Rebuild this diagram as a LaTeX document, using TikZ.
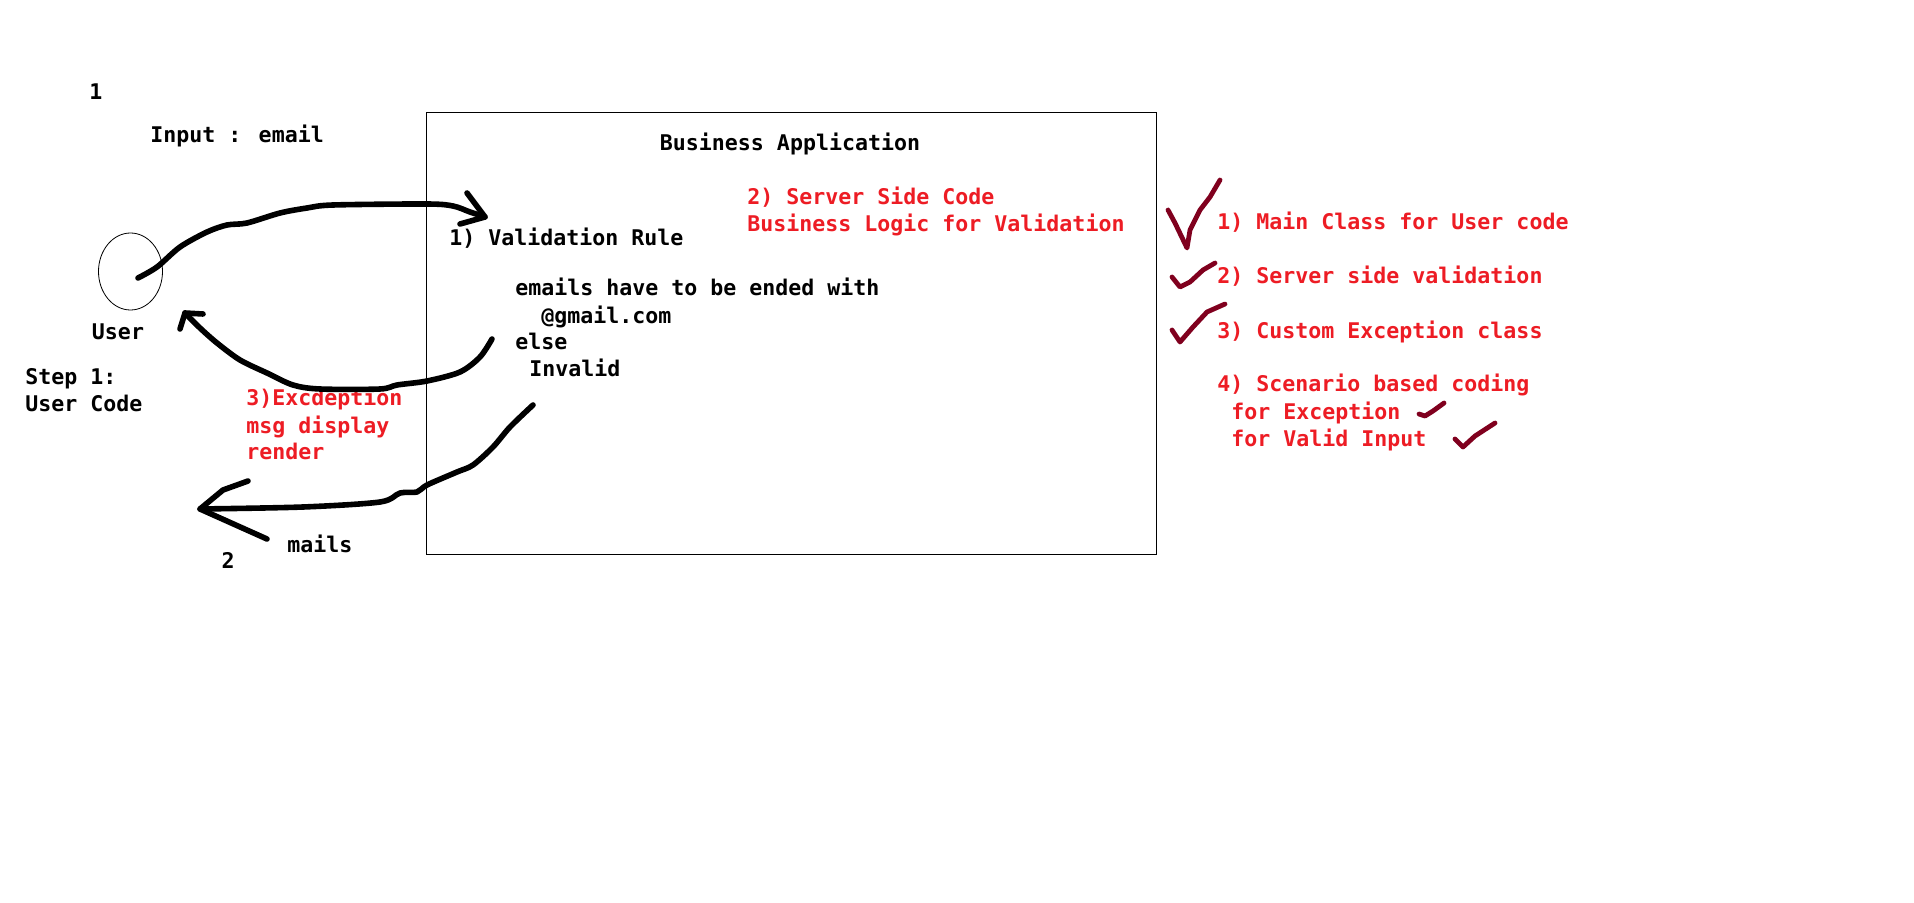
\documentclass[tikz,border=0pt]{standalone}
\usepackage{fontspec}
\setmainfont{DejaVu Sans Mono}
\usepackage{xcolor}
\usepackage{tikz}
\usetikzlibrary{shapes.geometric}
\definecolor{penred}{RGB}{237,28,36}
\definecolor{tickred}{RGB}{128,0,30}

\begin{document}
\begin{tikzpicture}[x=0.5pt,y=-0.5pt,
  txt/.style={inner sep=0pt,anchor=base west,font=\fontsize{10.8}{13.5}\selectfont\bfseries},
  redtxt/.style={txt,text=penred},
  pen/.style={line width=2.8pt,line cap=round,line join=round},
  tick/.style={line width=2.4pt,line cap=round,line join=round,tickred}]
\useasboundingbox (0,0) rectangle (1914,903);
% pixel coordinates, y going down
\node[draw,ellipse,line width=0.4pt,minimum width=32pt,minimum height=38.5pt,inner sep=0pt] (user) at (130.5,271.5) {};
\node[txt,anchor=base] (one) at (96,100) {1};
\node[txt] (input) at (150,143) {Input : email};
\node[txt,anchor=base] (userlbl) at (118,340) {User};
\node[txt] (stepa) at (25,384) {Step 1:};
\node[txt] (stepb) at (25,411) {User Code};
\node[draw,line width=0.5pt,anchor=north west,minimum width=365pt,minimum height=221pt,inner sep=0pt] (app) at (426,112) {};
\node[txt,anchor=base] (apptitle) at (790,151) {Business Application};
\node[redtxt] (servera) at (747,205) {2) Server Side Code};
\node[redtxt] (serverb) at (747,232) {Business Logic for Validation};
\node[txt] (rule) at (449,246) {1) Validation Rule};
\node[txt] (rulea) at (515,296) {emails have to be ended with};
\node[txt] (ruleb) at (541,323) {@gmail.com};
\node[txt] (rulec) at (515,350) {else};
\node[txt] (ruled) at (529,376) {Invalid};
\node[redtxt] (exca) at (246,405) {3)Excdeption};
\node[redtxt] (excb) at (246,433) {msg display};
\node[redtxt] (excc) at (246,459) {render};
\node[txt] (mails) at (287,552) {mails};
\node[txt,anchor=base] (two) at (228,568) {2};
\node[redtxt] (todoa) at (1217,230) {1) Main Class for User code};
\node[redtxt] (todob) at (1217,284) {2) Server side validation};
\node[redtxt] (todoc) at (1217,338) {3) Custom Exception class};
\node[redtxt] (todod) at (1217,391) {4) Scenario based coding};
\node[redtxt] (todoe) at (1231,419) {for Exception};
\node[redtxt] (todof) at (1231,446) {for Valid Input};
% hand drawn arrows
\coordinate (uout) at (138,278);
\coordinate (intip) at (485,217);
\coordinate (excout) at (492,339);
\coordinate (exctip) at (185,313);
\coordinate (mailout) at (533,405);
\coordinate (mailtip) at (200,509);
\draw[pen] plot[smooth,tension=0.5] coordinates {(uout) (157,267) (180,247) (207,232) (227,225) (247,223) (280,213) (307,208) (333,205) (427,204) (453,206) (470,212) (intip)};
\draw[pen] (467,193) -- (intip) -- (460,224);
\draw[pen] plot[smooth,tension=0.5] coordinates {(excout) (480,357) (460,372) (427,381) (397,385) (380,389) (320,389) (293,385) (267,373) (240,360) (217,343) (200,328) (exctip)};
\draw[pen] (180,329) -- (exctip) -- (203,314);
\draw[pen] plot[smooth,tension=0.5] coordinates {(mailout) (510,427) (493,447) (473,465) (457,472) (427,485) (417,492) (400,493) (380,502) (303,507) (mailtip)};
\draw[pen] (248,481) -- (223,490) -- (mailtip) -- (267,539);
% ticks
\draw[tick] (1168,210) -- (1175,223) -- (1187,248) -- (1190,230) -- (1200,210) -- (1210,197) -- (1220,180);
\draw[tick] (1172,277) -- (1180,287) -- (1190,282) -- (1203,270) -- (1215,263);
\draw[tick] (1172,330) -- (1180,342) -- (1193,327) -- (1207,312) -- (1225,304);
\draw[tick] (1419,414) -- (1425,416) -- (1433,411) -- (1444,403);
\draw[tick] (1455,439) -- (1463,447) -- (1475,436) -- (1495,423);
\end{tikzpicture}
\end{document}
